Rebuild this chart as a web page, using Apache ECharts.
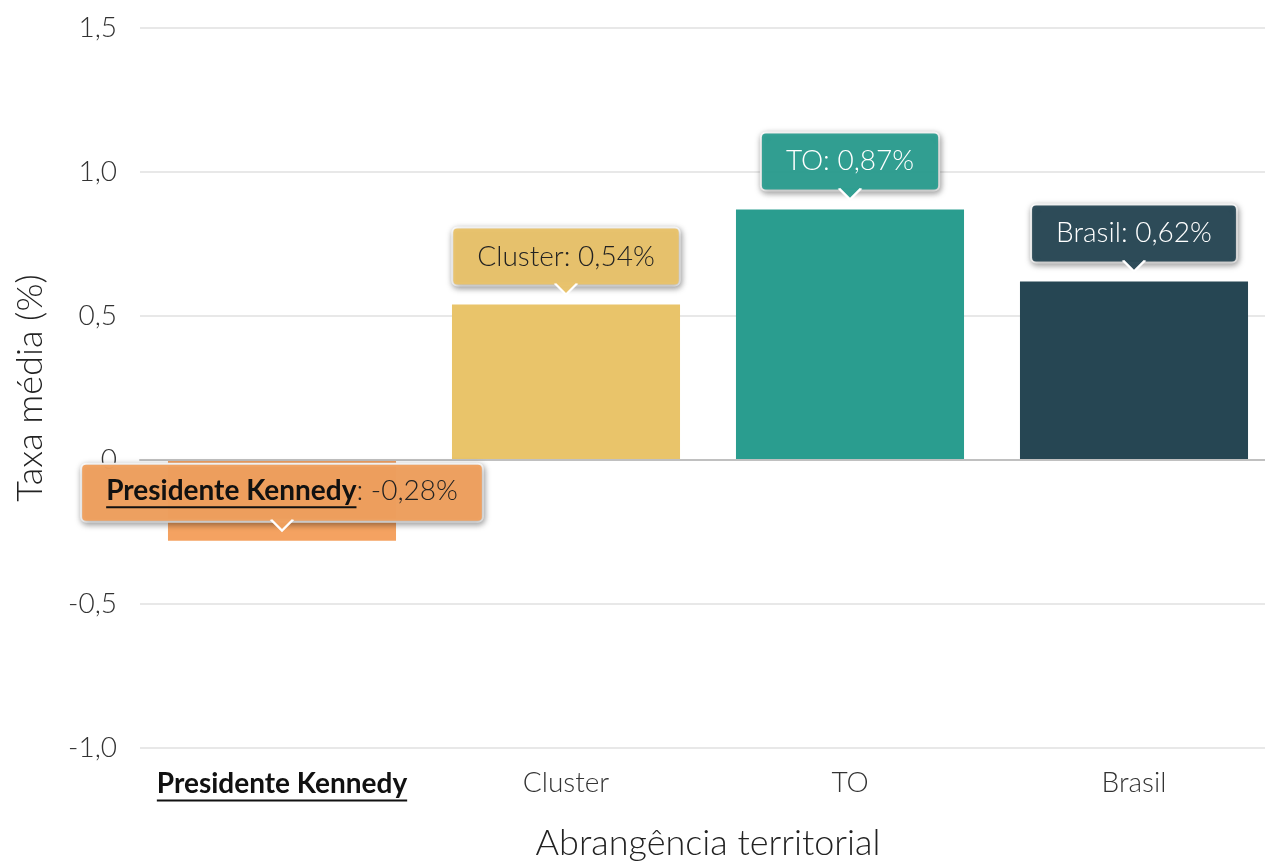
<!DOCTYPE html>
<html>
<head>
<meta charset="utf-8">
<script src="https://cdn.jsdelivr.net/npm/echarts@6/dist/echarts.min.js"></script>
<style>html,body{margin:0;padding:0;background:#fff;}#c{width:1265px;height:861px;}</style>
</head>
<body>
<div id="c"></div>
<script>
const categories = ['Presidente Kennedy', 'Cluster', 'TO', 'Brasil'];
const values = [-0.28, 0.54, 0.87, 0.62];
const highlighted = 'Presidente Kennedy';
const barColors = ['#f4a261', '#e9c46a', '#2a9d8f', '#264653'];
const boxColors = ['rgba(240,160,94,0.97)', 'rgba(232,194,106,0.97)', 'rgba(42,157,143,0.95)', 'rgba(38,70,83,0.95)'];
const labelTextColors = ['#222', '#222', '#fff', '#fff'];
const yAxisName = 'Taxa média (%)';
const xAxisName = 'Abrangência territorial';

const FONT = 'Lato';
const fmt = v => v.toFixed(2).replace('.', ',');
const ctx = document.createElement('canvas').getContext('2d');
function measure(text, weight, size) {
  ctx.font = weight + ' ' + size + 'px ' + FONT;
  return ctx.measureText(text).width;
}
const LBL = 28;
const AX = 28;

const labelData = values.map((v, i) => {
  const name = categories[i];
  const isH = name === highlighted;
  let formatter, rich = {};
  const col = labelTextColors[i];
  if (isH) {
    const tail = ': ' + fmt(v) + '%';
    const wB = measure(name, 'bold', LBL);
    const wN = measure(tail, '300', LBL);
    formatter = '{b|' + name + '}{n|' + tail + '}\n{u|}{g|}';
    rich = {
      b: {fontFamily: FONT, fontWeight: 'bold', fontSize: LBL, color: '#111', lineHeight: 29},
      n: {fontFamily: FONT, fontWeight: 300, fontSize: LBL, color: '#222', lineHeight: 29},
      u: {width: wB, height: 2, lineHeight: 3, backgroundColor: '#111'},
      g: {width: wN, height: 2, lineHeight: 3}
    };
  } else {
    formatter = name + ': ' + fmt(v) + '%';
  }
  return {
    value: [name, v],
    label: {
      show: true,
      position: 'top',
      distance: 20,
      formatter: formatter,
      rich: rich,
      fontFamily: FONT,
      fontWeight: 300,
      fontSize: LBL,
      color: col,
      lineHeight: 30,
      backgroundColor: boxColors[i],
      borderColor: '#ffffff',
      borderWidth: 2,
      borderRadius: 4,
      padding: isH ? [12, 24, 12, 24] : [13, 24, 13, 24],
      shadowBlur: 6,
      shadowColor: 'rgba(0,0,0,0.35)',
      shadowOffsetX: 1,
      shadowOffsetY: 2
    }
  };
});

const arrowData = values.map((v, i) => ({
  value: [categories[i], v],
  itemStyle: {color: boxColors[i], borderColor: '#fff', borderWidth: 2, opacity: 1}
}));

const axisLabelW = measure(highlighted, 'bold', AX);

const option = {
  animation: false,
  backgroundColor: '#fff',
  grid: {left: 140, top: 28, width: 1136, bottom: 113, containLabel: false, outerBoundsMode: 'none'},
  xAxis: {
    type: 'category',
    data: categories,
    name: xAxisName,
    nameLocation: 'middle',
    nameGap: 77,
    nameTextStyle: {fontFamily: FONT, fontWeight: 300, fontSize: 36, color: '#222'},
    axisLine: {onZero: true, lineStyle: {color: '#c0c0c0', width: 2}},
    axisTick: {show: false},
    axisLabel: {
      interval: 0,
      margin: 21,
      fontFamily: FONT,
      fontWeight: 300,
      fontSize: AX,
      color: '#333',
      formatter: function (v) {
        return v === highlighted ? '{b|' + v + '}\n{u|}' : v;
      },
      rich: {
        b: {fontFamily: FONT, fontWeight: 'bold', fontSize: AX, color: '#111', lineHeight: 30},
        u: {width: axisLabelW, height: 2, lineHeight: 3, backgroundColor: '#111'}
      }
    },
    z: 3
  },
  yAxis: {
    type: 'value',
    min: -1,
    max: 1.5,
    interval: 0.5,
    name: yAxisName,
    nameLocation: 'middle',
    nameGap: 92,
    nameTextStyle: {fontFamily: FONT, fontWeight: 300, fontSize: 36, color: '#222'},
    axisLine: {show: false},
    axisTick: {show: false},
    splitLine: {lineStyle: {color: '#e0e0e0', width: 1.5}},
    axisLabel: {
      margin: 23,
      fontFamily: FONT,
      fontWeight: 300,
      fontSize: 28,
      color: '#333',
      formatter: v => (v === 0 ? '0' : v.toFixed(1).replace('.', ','))
    }
  },
  series: [
    {
      type: 'bar',
      data: values.map((v, i) => ({value: v, itemStyle: {color: barColors[i]}})),
      barCategoryGap: '19.7%',
      z: 2
    },
    {
      type: 'scatter',
      data: labelData,
      symbolSize: 0,
      itemStyle: {opacity: 1},
      silent: true,
      z: 5
    },
    {
      type: 'scatter',
      data: arrowData,
      symbol: 'path://M0,0L10,10L20,0',
      symbolSize: [22, 11],
      symbolOffset: [0, -15.5],
      itemStyle: {opacity: 1},
      silent: true,
      z: 8
    }
  ]
};
const chart = echarts.init(document.getElementById('c'), null, {renderer: 'canvas'});
chart.setOption(option);
</script>
</body>
</html>
